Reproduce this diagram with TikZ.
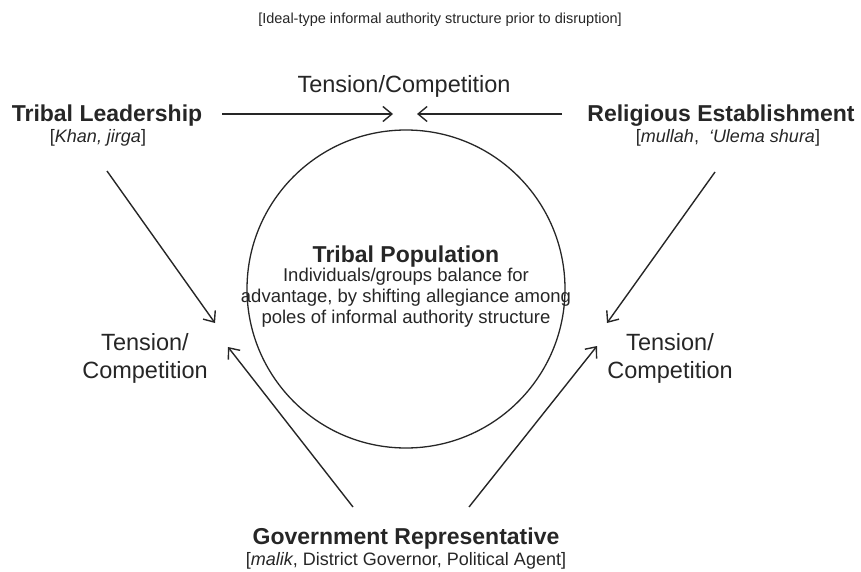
\documentclass[tikz,border=0pt]{standalone}
\usepackage{fontspec}
\setmainfont{Liberation Sans}
\usetikzlibrary{arrows.meta}

\begin{document}
\begin{tikzpicture}[x=1pt, y=-1pt]
	\tikzset{pole/.style={font=\fontsize{23}{27}\selectfont\bfseries, text=black!85, inner sep=0pt, anchor=base},
	sous/.style={font=\fontsize{18}{21}\selectfont, text=black!85, inner sep=0pt, anchor=base},
	rivalite/.style={font=\fontsize{23.5}{28}\selectfont, text=black!85, inner sep=0pt, align=center},
	fleche/.style={line width=1.4pt, draw=black!85, -{Straight Barb[length=9pt, width=15pt, line width=1.4pt]}}};

	\useasboundingbox (0,0) rectangle (861,572);

	\node[font=\fontsize{14.5}{17}\selectfont, text=black!85, inner sep=0pt] (titre) at (440,20) {[Ideal-type informal authority structure prior to disruption]};

	% les trois poles
	\node[pole] (lead) at (107,122) {Tribal Leadership};
	\node[sous] (lead-s) at (98,143) {[\textit{Khan, jirga}]};
	\node[pole] (rel) at (721,122) {Religious Establishment};
	\node[sous] (rel-s) at (728,143) {[\textit{mullah}, \ \textit{\textquoteleft Ulema shura}]};
	\node[pole] (gov) at (406,544) {Government Representative};
	\node[sous] (gov-s) at (406,565) {[\textit{malik}, District Governor, Political Agent]};

	% population au centre
	\node[circle, draw=black!85, line width=1.3pt, minimum size=318pt, inner sep=0pt] (pop) at (406,289) {};
	\node[pole] (pop-t) at (406,262) {Tribal Population};
	\node[font=\fontsize{18.5}{21}\selectfont, text=black!85, inner sep=0pt, align=center, anchor=north] (pop-s) at (406,268)
		{Individuals/groups balance for\\advantage, by shifting allegiance among\\poles of informal authority structure};

	\node[rivalite] (tc-h) at (404,86) {Tension/Competition};
	\node[rivalite] (tc-g) at (145,358) {Tension/\\Competition};
	\node[rivalite] (tc-d) at (670,358) {Tension/\\Competition};

	% extremites des fleches
	\foreach \name/\x/\y in {a1/222/114, b1/393/114, a2/562/114, b2/417/114,
		a3/107/171, b3/215/323, a4/715/172, b4/607/323,
		a5/353/507, b5/228/347, a6/469/507, b6/597/346}{
		\coordinate (\name) at (\x,\y);
	}
	\foreach \i in {1,...,6}{
		\draw[fleche] (a\i) -- (b\i);
	}

\end{tikzpicture}
\end{document}
